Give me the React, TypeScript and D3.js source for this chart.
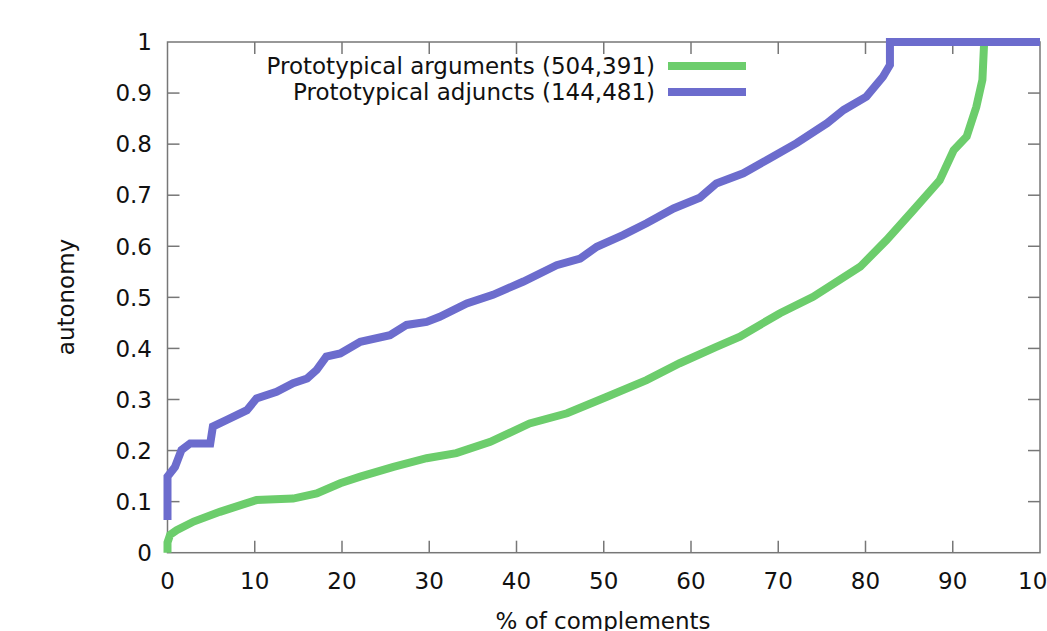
import React from 'react';
import * as d3 from 'd3';

// % of complements (x) vs autonomy (y)
const argX = [0, 0, 0.3, 1.05, 3.0, 6.0, 9.1, 10.2, 14.4, 17.1, 19.8, 22.1, 25.9, 29.7, 33.1, 37.0, 41.5, 45.8, 50.3, 54.9, 58.7, 62.9, 65.6, 70.2, 74.0, 79.4, 82.4, 85.5, 88.5, 90.1, 91.6, 92.7, 93.4, 93.6, 100];
const argY = [0, 0.02, 0.035, 0.044, 0.061, 0.08, 0.097, 0.103, 0.106, 0.116, 0.136, 0.149, 0.168, 0.185, 0.195, 0.217, 0.253, 0.273, 0.305, 0.338, 0.371, 0.403, 0.423, 0.469, 0.501, 0.56, 0.612, 0.671, 0.729, 0.788, 0.815, 0.873, 0.926, 1, 1];

const adjX = [0, 0, 0.86, 1.6, 2.6, 4.9, 5.2, 6.8, 9.1, 10.2, 12.5, 14.4, 16.0, 17.1, 18.2, 19.8, 22.1, 25.5, 27.4, 29.7, 31.2, 34.3, 37.3, 40.8, 44.6, 47.3, 49.2, 52.2, 54.9, 58.0, 61.0, 62.9, 66.0, 68.7, 72.1, 75.6, 77.5, 80.1, 82.0, 82.8, 82.8, 100];
const adjY = [0.064, 0.149, 0.168, 0.201, 0.214, 0.214, 0.247, 0.26, 0.279, 0.302, 0.315, 0.332, 0.341, 0.358, 0.384, 0.39, 0.413, 0.426, 0.446, 0.452, 0.462, 0.488, 0.505, 0.531, 0.563, 0.576, 0.599, 0.622, 0.645, 0.674, 0.695, 0.723, 0.743, 0.769, 0.802, 0.841, 0.867, 0.893, 0.932, 0.955, 1, 1];

const xTicks = [0, 10, 20, 30, 40, 50, 60, 70, 80, 90, 100];
const yTicks = [0, 0.1, 0.2, 0.3, 0.4, 0.5, 0.6, 0.7, 0.8, 0.9, 1];

const seriesNames = ['Prototypical arguments (504,391)', 'Prototypical adjuncts (144,481)'];
const seriesColors = ['#6ccd6c', '#6c6ccd'];

const W = 1047;
const H = 631;
const left = 167.5;
const right = 1040;
const top = 42;
const bottom = 552.7;
const font = 'DejaVu Sans, sans-serif';
const fs = 23;

export default function App() {
  const x = d3.scaleLinear().domain([0, 100]).range([left, right]);
  const y = d3.scaleLinear().domain([0, 1]).range([bottom, top]);

  const line = d3.line<[number, number]>()
    .x(d => x(d[0]))
    .y(d => y(d[1]));

  const series = [
    argX.map((v, i) => [v, argY[i]] as [number, number]),
    adjX.map((v, i) => [v, adjY[i]] as [number, number]),
  ];

  const axisColor = '#777';
  const tickLen = 12;

  return (
    <svg width={W} height={H} style={{ position: 'absolute', left: 0, top: 0, background: '#fff' }} fontFamily={font}>
      {/* ticks */}
      {xTicks.slice(1, -1).map(t => (
        <g key={'xt' + t}>
          <line x1={x(t)} x2={x(t)} y1={bottom} y2={bottom - tickLen} stroke={axisColor} strokeWidth={1.5} />
          <line x1={x(t)} x2={x(t)} y1={top} y2={top + tickLen} stroke={axisColor} strokeWidth={1.5} />
        </g>
      ))}
      {yTicks.slice(1, -1).map(t => (
        <g key={'yt' + t}>
          <line x1={left} x2={left + tickLen} y1={y(t)} y2={y(t)} stroke={axisColor} strokeWidth={1.5} />
          <line x1={right} x2={right - tickLen} y1={y(t)} y2={y(t)} stroke={axisColor} strokeWidth={1.5} />
        </g>
      ))}
      <rect x={left} y={top} width={right - left} height={bottom - top} fill="none" stroke={axisColor} strokeWidth={1.5} />

      {/* tick labels */}
      {xTicks.map(t => (
        <text key={'xl' + t} x={x(t)} y={589} textAnchor="middle" fontSize={fs} fill="#111">{t}</text>
      ))}
      {yTicks.map(t => (
        <text key={'yl' + t} x={152} y={y(t)} dy="0.36em" textAnchor="end" fontSize={fs} fill="#111">{t}</text>
      ))}

      {/* axis titles */}
      <text transform={`translate(74,297) rotate(-90)`} textAnchor="middle" fontSize={fs} fill="#111">autonomy</text>
      <text x={603} y={629} textAnchor="middle" fontSize={fs} fill="#111">% of complements</text>

      {/* series */}
      {series.map((s, i) => (
        <path key={'s' + i} d={line(s) || ''} fill="none" stroke={seriesColors[i]} strokeWidth={8} strokeLinejoin="miter" />
      ))}

      {/* legend */}
      {seriesNames.map((n, i) => (
        <g key={'lg' + i}>
          <text x={655} y={66 + i * 26} dy="0.36em" textAnchor="end" fontSize={fs} fill="#111">{n}</text>
          <line x1={668} x2={746} y1={66 + i * 26} y2={66 + i * 26} stroke={seriesColors[i]} strokeWidth={8} />
        </g>
      ))}
    </svg>
  );
}
